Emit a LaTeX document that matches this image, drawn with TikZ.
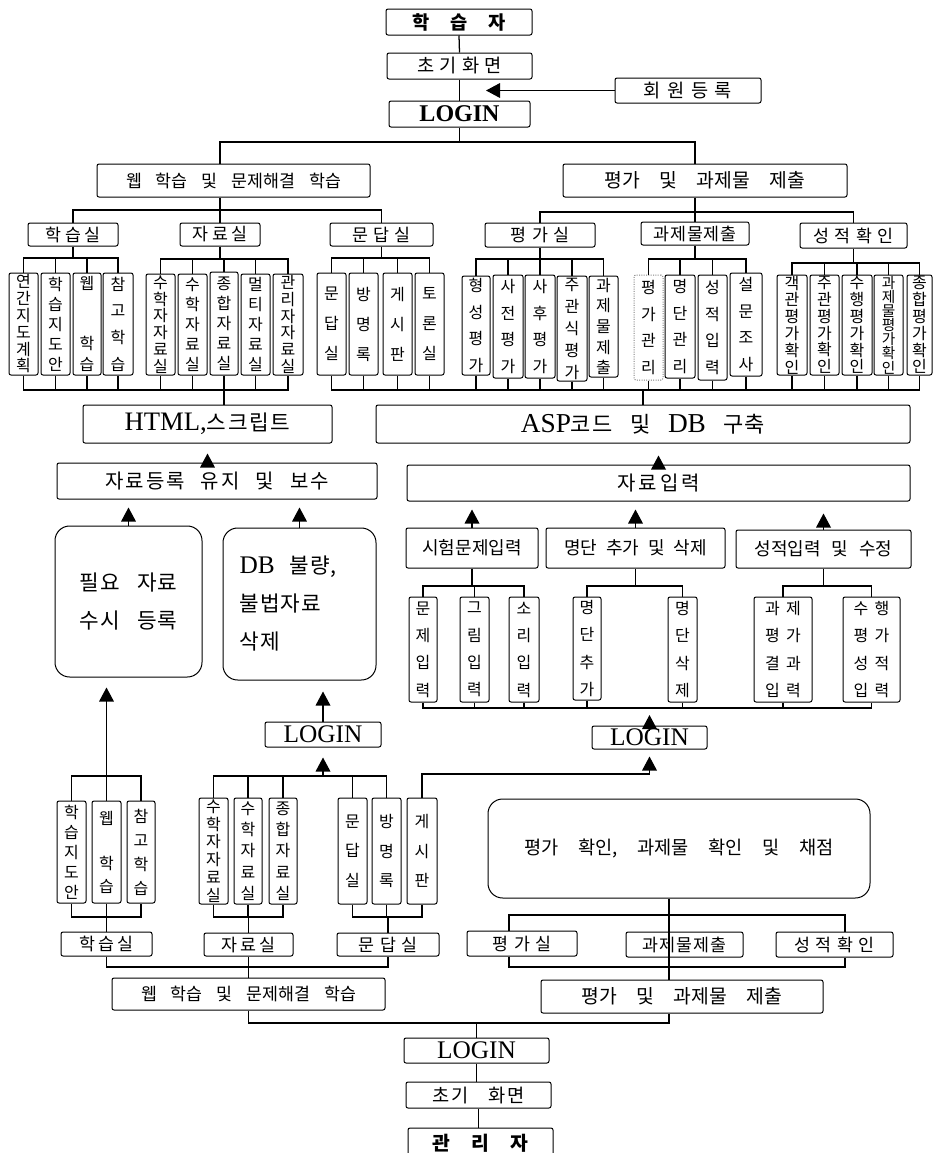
\documentclass[tikz,border=0pt]{standalone}
\usepackage{fontspec}
\setmainfont{Liberation Serif}
\newfontfamily\kr{Noto Sans CJK KR}
\usetikzlibrary{arrows.meta}
\newcommand\fsz[1]{\fontsize{#1pt}{#1pt}\selectfont}
\newcommand\lsp[1]{\addfontfeature{LetterSpace=#1}}
\newcommand\hsp[1]{\hspace{#1em}}
\newcommand\bxn[7][]{\node[bx,minimum width={(#5-#3)*0.75pt},minimum height={(#6-#4)*0.75pt},#1] (#2) at ({(#3+#5)/2},{(#4+#6)/2}) {#7};}
% parent above, children below
\newcommand\grp[5]{%
  \draw (#1.south) -- (#1.south |- 0,#2);
  \draw (#3.north) |- (#4.north |- 0,#2) -- (#4.north);
  \foreach \nn in {#5} {\draw (\nn.north) -- (\nn.north |- 0,#2);}}
% parent below, children above
\newcommand\grpup[5]{%
  \draw (#1.north) -- (#1.north |- 0,#2);
  \draw (#3.south) |- (#4.south |- 0,#2) -- (#4.south);
  \foreach \nn in {#5} {\draw (\nn.south) -- (\nn.south |- 0,#2);}}
\newcommand\busup[4]{%
  \draw (#2.south) |- (#3.south |- 0,#1) -- (#3.south);
  \foreach \nn in {#4} {\draw (\nn.south) -- (\nn.south |- 0,#1);}}
\begin{document}
\begin{tikzpicture}[x=0.75pt,y=-0.75pt,line width=0.95pt,
  bx/.style={draw,line width=0.75pt,rounded corners=1.5pt,inner sep=0pt,align=center,font=\kr\fsz{13}},
  big/.style={rounded corners=11pt},
  vb/.style={font=\kr\fontsize{12pt}{#1}\selectfont},
  vb/.default=20pt,
  lab/.style={font=\kr\fsz{13}\lsp{#1}},
  lab/.default=22,
  arr/.style={-{Triangle[length=10.5pt,width=11pt]}}]
\fill[white] (0,0) rectangle (934,1153);
\useasboundingbox (0,0) rectangle (934,1153);
\coordinate (cx) at (669,0);
\coordinate (cxp) at (509,0);
\coordinate (cxs) at (845,0);
% ---------- top ----------
\bxn[font=\kr\bfseries\fsz{14}]{ls}{386}{9}{532}{35}{학\hsp{1.1}습\hsp{1.1}자}
\bxn[font=\kr\fsz{14}\lsp{28}]{scr}{387}{53}{532}{79}{초기화면}
\bxn[font=\kr\fsz{14}\lsp{35}]{reg}{615}{78}{761}{103}{회원등록}
\bxn[font=\rmfamily\bfseries\fsz{18}]{login1}{389}{101}{530}{127}{LOGIN}
\bxn[font=\kr\fsz{13}]{web1}{97}{164}{370}{197}{웹\hsp{0.8}학습\hsp{0.8}및\hsp{0.8}문제해결\hsp{0.8}학습}
\bxn[font=\kr\fsz{14.5}]{eval1}{563}{164}{847}{197}{평가\hsp{1}및\hsp{1}과제물\hsp{1}제출}
\bxn[lab=20]{hak1}{28}{223}{118}{246}{학습실}
\bxn[lab=20]{jar1}{180}{223}{260}{246}{자료실}
\bxn[lab=30]{mun1}{330}{223}{433}{246}{문답실}
\bxn[lab=30]{pyeong1}{485}{223}{595}{247}{평가실}
\bxn[lab=5]{gwa1}{641}{222}{749}{245}{과제물제출}
\bxn[lab=30]{seong1}{800}{223}{907}{248}{성적확인}
% vertical boxes, upper row
\bxn[vb=12.6pt]{v1}{9}{273}{38}{375}{연\\간\\지\\도\\계\\획}
\bxn[vb=15pt]{v2}{41}{273}{70}{375}{학\\습\\지\\도\\안}
\bxn[vb=16pt]{v3}{73}{273}{101}{375}{웹\\[29pt]학\\습}
\bxn[vb=20pt]{v4}{103}{273}{133}{375}{참\\고\\학\\습}
\bxn[vb=12.6pt]{v5}{146}{274}{175}{375}{수\\학\\자\\자\\료\\실}
\bxn[vb=15pt]{v6}{178}{274}{207}{375}{수\\학\\자\\료\\실}
\bxn[vb=15pt]{v7}{210}{272}{238}{375}{종\\합\\자\\료\\실}
\bxn[vb=15pt]{v8}{241}{274}{270}{375}{멀\\티\\자\\료\\실}
\bxn[vb=12.6pt]{v9}{273}{274}{303}{375}{관\\리\\자\\자\\료\\실}
\bxn[vb=22.5pt]{v10}{317}{273}{346}{375}{문\\답\\실}
\bxn[vb=22.5pt]{v11}{349}{273}{378}{375}{방\\명\\록}
\bxn[vb=22.5pt]{v12}{383}{273}{412}{375}{게\\시\\판}
\bxn[vb=22.5pt]{v13}{415}{273}{444}{375}{토\\론\\실}
\bxn[vb=20pt]{v14}{462}{276}{490}{375}{형\\성\\평\\가}
\bxn[vb=20pt]{v15}{493}{275}{523}{378}{사\\전\\평\\가}
\bxn[vb=20pt]{v16}{525}{275}{555}{378}{사\\후\\평\\가}
\bxn[vb=16.5pt]{v17}{557}{276}{587}{381}{주\\관\\식\\평\\가}
\bxn[vb=15.5pt]{v18}{589}{276}{618}{377}{과\\제\\물\\제\\출}
\bxn[vb=20pt,draw=gray,densely dotted]{v19}{634}{275}{663}{380}{평\\가\\관\\리}
\bxn[vb=20pt]{v20}{665}{275}{695}{378}{명\\단\\관\\리}
\bxn[vb=20pt]{v21}{698}{275}{727}{380}{성\\적\\입\\력}
\bxn[vb=20pt]{v22}{730}{273}{762}{376}{설\\문\\조\\사}
\bxn[vb=12.6pt]{v23}{777}{275}{807}{375}{객\\관\\평\\가\\확\\인}
\bxn[vb=12.6pt]{v24}{810}{275}{839}{375}{주\\관\\평\\가\\확\\인}
\bxn[vb=12.6pt]{v25}{842}{275}{872}{375}{수\\행\\평\\가\\확\\인}
\bxn[font=\kr\fontsize{11pt}{10.6pt}\selectfont]{v26}{874}{275}{903}{375}{과\\제\\물\\평\\가\\확\\인}
\bxn[vb=12.6pt]{v27}{907}{275}{932}{375}{종\\합\\평\\가\\확\\인}
% ---------- middle ----------
\bxn[font=\kr\fsz{16}\lsp{8}]{html}{83}{405}{332}{443}{{\rmfamily\fsz{20}HTML,}스크립트}
\bxn[font=\kr\fsz{16.5}\lsp{5}]{asp}{376}{405}{910}{443}{{\rmfamily\fsz{20.5}ASP}코드\hsp{0.8}및\hsp{0.8}{\rmfamily\fsz{20.5}DB}\hsp{0.8}구축}
\bxn[font=\kr\fsz{15}\lsp{10}]{jareg}{57}{463}{377}{499}{자료등록\hsp{0.8}유지\hsp{0.8}및\hsp{0.8}보수}
\bxn[font=\kr\fsz{15}\lsp{15}]{jain}{407}{465}{910}{501}{자료입력}
\bxn[big,font=\kr\fontsize{16pt}{28pt}\selectfont\lsp{5}]{need}{55}{526}{202}{677}{필요\hsp{0.8}자료\\수시\hsp{0.8}등록}
\bxn[big,align=left,text width=90pt,font=\kr\fontsize{16pt}{28.5pt}\selectfont\lsp{5}]{db}{223}{528}{376}{680}{{\rmfamily\fsz{19}DB}\hsp{0.7}불량,\\불법자료\\삭제}
\bxn[font=\kr\fsz{13.5}]{sihum}{406}{528}{538}{568}{시험문제입력}
\bxn[font=\kr\fsz{13.5}]{myung}{546}{528}{725}{568}{명단\hsp{0.5}추가\hsp{0.5}및\hsp{0.5}삭제}
\bxn[font=\kr\fsz{13.5}]{sjip}{736}{530}{911}{568}{성적입력\hsp{0.6}및\hsp{0.6}수정}
\bxn[vb=20.5pt]{mj}{409}{597}{437}{702}{문\\제\\입\\력}
\bxn[vb=20.5pt]{gr}{460}{597}{489}{702}{그\\림\\입\\력}
\bxn[vb=20.5pt]{so}{509}{597}{539}{702}{소\\리\\입\\력}
\bxn[vb=20.5pt]{ma}{573}{597}{601}{700}{명\\단\\추\\가}
\bxn[vb=20.5pt]{md}{668}{597}{697}{702}{명\\단\\삭\\제}
\bxn[vb=20.5pt]{gj}{754}{597}{812}{702}{과\hsp{0.4}제\\평\hsp{0.4}가\\결\hsp{0.4}과\\입\hsp{0.4}력}
\bxn[vb=20.5pt]{sh}{843}{597}{900}{702}{수\hsp{0.4}행\\평\hsp{0.4}가\\성\hsp{0.4}적\\입\hsp{0.4}력}
\bxn[font=\rmfamily\fsz{19}]{loginr}{592}{726}{707}{749}{LOGIN}
\bxn[font=\rmfamily\fsz{19}]{loginm}{265}{722}{381}{747}{LOGIN}
% ---------- lower ----------
\bxn[vb=15pt]{lw1}{57}{801}{86}{903}{학\\습\\지\\도\\안}
\bxn[vb=17pt]{lw2}{92}{801}{121}{903}{웹\\[17pt]학\\습}
\bxn[vb=18pt]{lw3}{127}{801}{155}{903}{참\\고\\학\\습}
\bxn[vb=13.3pt]{lj1}{199}{798}{228}{904}{수\\학\\자\\자\\료\\실}
\bxn[vb=16pt]{lj2}{234}{798}{262}{904}{수\\학\\자\\료\\실}
\bxn[vb=16pt]{lj3}{269}{798}{297}{904}{종\\합\\자\\료\\실}
\bxn[vb=22pt]{lm1}{338}{798}{367}{904}{문\\답\\실}
\bxn[vb=22pt]{lm2}{372}{798}{401}{904}{방\\명\\록}
\bxn[vb=22pt]{lm3}{407}{798}{437}{904}{게\\시\\판}
\bxn[lab=20]{hak2}{61}{932}{152}{956}{학습실}
\bxn[lab=20]{jar2}{204}{933}{293}{956}{자료실}
\bxn[lab=30]{mun2}{337}{933}{439}{956}{문답실}
\bxn[font=\kr\fsz{13}]{web2}{112}{978}{385}{1010}{웹\hsp{0.8}학습\hsp{0.8}및\hsp{0.8}문제해결\hsp{0.8}학습}
\bxn[big,font=\kr\fsz{14}]{chk}{488}{799}{870}{898}{평가\hsp{1.05}확인,\hsp{1.05}과제물\hsp{1.05}확인\hsp{1.05}및\hsp{1.05}채점}
\bxn[lab=30]{pyeong2}{467}{931}{577}{956}{평가실}
\bxn[lab=5]{gwa2}{626}{932}{743}{957}{과제물제출}
\bxn[lab=30]{seong2}{776}{932}{893}{957}{성적확인}
\bxn[font=\kr\fsz{14.5}]{eval2}{541}{980}{823}{1013}{평가\hsp{1}및\hsp{1}과제물\hsp{1}제출}
\bxn[font=\rmfamily\fsz{19}]{loginb}{404}{1038}{549}{1063}{LOGIN}
\bxn[font=\kr\fsz{14}\lsp{8}]{scr2}{406}{1082}{551}{1108}{초기\hsp{1.1}화면}
\bxn[font=\kr\bfseries\fsz{14.5}]{adm}{408}{1128}{553}{1158}{관\hsp{1.1}리\hsp{1.1}자}
% ---------- connectors: top ----------
\draw (ls.south) -- (scr.north);
\draw (scr.south) -- (login1.north);
\draw[arr] (reg.west) -- (reg.west -| 486,0);
\draw (login1.south) -- (login1.south |- 0,142);
\draw (220,0 |- web1.north) -- (220,142) -- (695,142) -- (695,0 |- eval1.north);
\draw (web1.south -| jar1.north) -- (jar1.north);
\draw (hak1.north) |- (mun1.north |- 0,210) -- (mun1.north);
\draw (eval1.south -| gwa1.north) -- (gwa1.north);
\draw (pyeong1.north) |- (seong1.north |- 0,212) -- (seong1.north);
\grp{hak1}{258}{v1}{v4}{v2,v3}
\grp{jar1}{259}{v5}{v9}{v6,v7,v8}
\grp{mun1}{258}{v10}{v13}{v11,v12}
\grp{pyeong1}{259}{v14}{v18}{v15,v16,v17}
\grp{gwa1}{259}{v19}{v22}{v20,v21}
\grp{seong1}{263}{v23}{v27}{v24,v25,v26}
\busup{390}{v1}{v9}{v2,v3,v4,v5,v6,v7,v8}
\draw (v7.south) -- (v7.south |- html.north);
\busup{390}{v10}{v27}{v11,v12,v13,v14,v15,v16,v17,v18,v19,v20,v21,v22,v23,v24,v25,v26}
\draw (asp.north) -- (asp.north |- 0,390);
% ---------- connectors: middle ----------
\draw[arr,shorten >=7.5pt] (jareg.north -| html.south) -- (html.south);
\draw[arr,shorten >=9pt] (jain.north) -- (jain.north |- asp.south);
\draw[arr,shorten >=6pt] (need.north) -- (need.north |- jareg.south);
\draw[arr,shorten >=6pt] (db.north) -- (db.north |- jareg.south);
\draw[arr,shorten >=6pt] (sihum.north) -- (sihum.north |- jain.south);
\draw[arr,shorten >=6pt] (myung.north) -- (myung.north |- jain.south);
\draw[arr,shorten >=9pt] (sjip.north) -- (sjip.north |- jain.south);
\grp{sihum}{586}{mj}{so}{gr}
\grp{myung}{586}{ma}{md}{ma}
\grp{sjip}{586}{gj}{sh}{gj}
\busup{708}{mj}{sh}{gr,so,ma,md,gj}
\draw[arr] ([yshift=-4pt]loginr.north) -- (loginr.north |- 0,715);
\draw[arr,shorten >=5.25pt] (lm3.north) -- (lm3.north |- 0,774) -| (loginr.south);
\draw[arr,shorten >=8.25pt] (loginm.north) -- (loginm.north |- db.south);
\draw[arr,shorten >=7.5pt] (loginm.south |- 0,776) -- (loginm.south);
% ---------- connectors: lower ----------
\draw (lw1.north) |- (lw3.north |- 0,776) -- (lw3.north);
\draw[arr,shorten >=7.5pt] (lw2.north) -- (lw2.north |- need.south);
\draw (lj1.north) |- (lm2.north |- 0,776) -- (lm2.north);
\foreach \nn in {lj2,lj3,lm1} {\draw (\nn.north) -- (\nn.north |- 0,776);}
\grpup{hak2}{917}{lw1}{lw3}{lw2}
\grpup{jar2}{917}{lj1}{lj3}{lj2}
\grpup{mun2}{917}{lm1}{lm3}{lm2}
\grpup{web2}{967}{hak2}{mun2}{jar2}
\draw (chk.south -| cx) -- (eval2.north -| cx);
\draw (cxp |- pyeong2.north) |- (cxs |- 0,915) -- (cxs |- seong2.north);
\draw (cxp |- pyeong2.south) |- (cxs |- 0,967) -- (cxs |- seong2.south);
\draw (web2.south) |- (cx |- 0,1023) -- (cx |- eval2.south);
\draw (loginb.north) -- (loginb.north |- 0,1023);
\draw (loginb.south) -- (loginb.south |- scr2.north);
\draw (scr2.south) -- (scr2.south |- adm.north);
\end{tikzpicture}
\end{document}
